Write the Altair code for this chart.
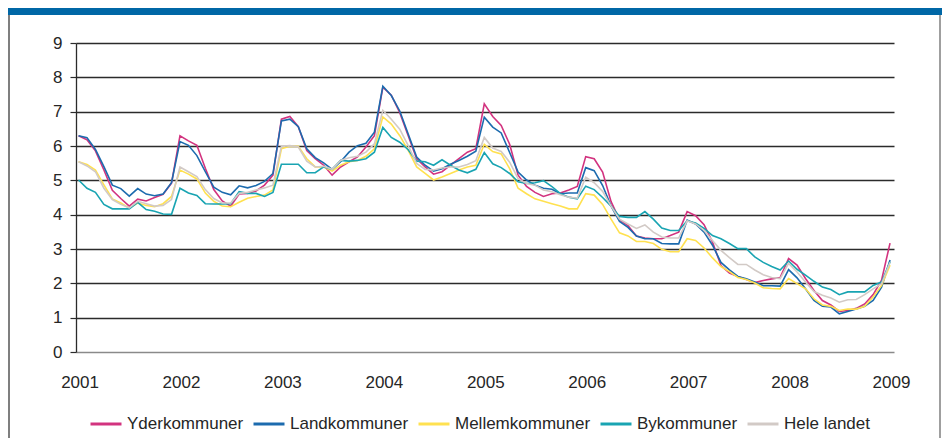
import altair as alt
import pandas as pd

series_names = ["Yderkommuner", "Landkommuner", "Mellemkommuner", "Bykommuner", "Hele landet"]
series_colors = ["#D2337F", "#1C6BAE", "#FFE150", "#19A4B2", "#D2CAC6"]

# monthly values Jan 2001 .. Jan 2009 (97 points)
yder = [6.30, 6.18, 5.86, 5.30, 4.71, 4.47, 4.25, 4.45, 4.40, 4.50, 4.59, 4.92,
        6.30, 6.15, 6.02, 5.35, 4.73, 4.40, 4.25, 4.60, 4.62, 4.69, 4.86, 5.15,
        6.78, 6.86, 6.56, 5.87, 5.63, 5.44, 5.15, 5.39, 5.54, 5.68, 5.97, 6.30,
        7.71, 7.48, 6.97, 6.30, 5.63, 5.39, 5.18, 5.25, 5.44, 5.63, 5.82, 5.92,
        7.23, 6.86, 6.60, 6.05, 5.15, 4.82, 4.65, 4.53, 4.61, 4.63, 4.72, 4.82,
        5.69, 5.63, 5.24, 4.38, 3.85, 3.68, 3.38, 3.32, 3.30, 3.30, 3.39, 3.49,
        4.09, 3.97, 3.71, 3.20, 2.52, 2.30, 2.20, 2.11, 2.02, 2.08, 2.13, 2.17,
        2.72, 2.53, 2.14, 1.79, 1.50, 1.37, 1.18, 1.21, 1.27, 1.40, 1.67, 2.09, 3.17]
land = [6.30, 6.24, 5.90, 5.40, 4.86, 4.76, 4.54, 4.76, 4.60, 4.55, 4.60, 4.93,
        6.13, 6.02, 5.72, 5.25, 4.80, 4.65, 4.58, 4.84, 4.78, 4.85, 4.97, 5.20,
        6.73, 6.78, 6.56, 5.92, 5.66, 5.51, 5.32, 5.54, 5.82, 6.01, 6.08, 6.40,
        7.74, 7.47, 7.02, 6.35, 5.68, 5.44, 5.27, 5.34, 5.47, 5.58, 5.70, 5.85,
        6.84, 6.55, 6.38, 5.81, 5.24, 5.01, 4.86, 4.77, 4.74, 4.61, 4.63, 4.63,
        5.37, 5.28, 4.85, 4.25, 3.80, 3.63, 3.38, 3.30, 3.30, 3.16, 3.15, 3.15,
        3.84, 3.73, 3.49, 3.11, 2.61, 2.39, 2.20, 2.13, 2.04, 1.93, 1.93, 1.92,
        2.40, 2.16, 1.84, 1.50, 1.33, 1.31, 1.11, 1.18, 1.25, 1.33, 1.50, 1.89, 2.68]
mellem = [5.54, 5.46, 5.30, 4.87, 4.46, 4.34, 4.19, 4.34, 4.27, 4.23, 4.32, 4.53,
          5.30, 5.18, 5.04, 4.63, 4.39, 4.25, 4.23, 4.36, 4.48, 4.53, 4.57, 4.72,
          5.92, 5.99, 5.99, 5.63, 5.39, 5.39, 5.27, 5.44, 5.54, 5.58, 5.70, 5.92,
          6.85, 6.64, 6.30, 5.87, 5.39, 5.20, 5.01, 5.10, 5.20, 5.30, 5.39, 5.44,
          6.05, 5.84, 5.77, 5.34, 4.77, 4.61, 4.46, 4.39, 4.32, 4.25, 4.17, 4.17,
          4.61, 4.57, 4.30, 3.87, 3.47, 3.38, 3.22, 3.22, 3.16, 2.99, 2.92, 2.92,
          3.30, 3.25, 3.03, 2.74, 2.49, 2.34, 2.17, 2.11, 2.01, 1.87, 1.85, 1.84,
          2.14, 1.99, 1.84, 1.55, 1.37, 1.33, 1.21, 1.25, 1.25, 1.33, 1.60, 1.94, 2.53]
by = [5.01, 4.77, 4.65, 4.30, 4.17, 4.17, 4.17, 4.36, 4.15, 4.10, 4.02, 4.01,
      4.77, 4.63, 4.56, 4.32, 4.31, 4.31, 4.32, 4.67, 4.62, 4.62, 4.53, 4.65,
      5.47, 5.47, 5.47, 5.22, 5.22, 5.39, 5.32, 5.58, 5.56, 5.58, 5.63, 5.82,
      6.54, 6.25, 6.11, 5.89, 5.56, 5.54, 5.44, 5.60, 5.44, 5.30, 5.22, 5.32,
      5.81, 5.48, 5.37, 5.20, 4.96, 4.91, 4.93, 4.99, 4.82, 4.61, 4.51, 4.46,
      4.83, 4.73, 4.50, 4.25, 3.95, 3.92, 3.92, 4.09, 3.87, 3.61, 3.54, 3.54,
      3.82, 3.76, 3.60, 3.39, 3.30, 3.16, 3.01, 3.01, 2.77, 2.61, 2.49, 2.39,
      2.65, 2.41, 2.24, 2.06, 1.89, 1.82, 1.67, 1.75, 1.75, 1.75, 1.94, 2.04, 2.63]
hele = [5.54, 5.42, 5.25, 4.77, 4.44, 4.30, 4.20, 4.39, 4.32, 4.25, 4.27, 4.44,
        5.39, 5.25, 5.11, 4.73, 4.47, 4.34, 4.34, 4.62, 4.65, 4.72, 4.78, 4.86,
        5.99, 6.01, 5.97, 5.56, 5.39, 5.41, 5.32, 5.58, 5.66, 5.70, 5.82, 6.06,
        7.04, 6.78, 6.49, 6.01, 5.49, 5.32, 5.30, 5.36, 5.39, 5.39, 5.46, 5.57,
        6.25, 5.94, 5.84, 5.53, 5.05, 4.91, 4.86, 4.72, 4.67, 4.58, 4.51, 4.48,
        5.09, 4.93, 4.68, 4.25, 3.87, 3.73, 3.60, 3.70, 3.49, 3.35, 3.32, 3.32,
        3.82, 3.73, 3.54, 3.25, 2.96, 2.75, 2.55, 2.55, 2.39, 2.25, 2.17, 2.14,
        2.58, 2.33, 2.04, 1.76, 1.65, 1.57, 1.45, 1.52, 1.53, 1.67, 1.84, 1.99, 2.61]

year_labels = [2001, 2002, 2003, 2004, 2005, 2006, 2007, 2008, 2009]
y_ticks = [0, 1, 2, 3, 4, 5, 6, 7, 8, 9]

all_series = [yder, land, mellem, by, hele]
rows = []
for name, vals in zip(series_names, all_series):
    for i, v in enumerate(vals):
        rows.append({"month": i, "value": v, "series": name, "order": series_names.index(name)})
df = pd.DataFrame(rows)

FONT = "Liberation Sans"
TXT = "#262626"
x_scale = alt.Scale(domain=[-0.3, 96.47], nice=False, zero=False)
x_tick_vals = [12 * k - 0.3 for k in range(len(year_labels))]

lines = alt.Chart(df).mark_line(strokeWidth=1.6).encode(
    x=alt.X("month:Q", scale=x_scale,
            axis=alt.Axis(values=x_tick_vals, labels=False,
                          title=None, grid=False, domainColor="#8a8a8a", domainWidth=1.5,
                          tickColor="#8a8a8a", tickSize=5, tickWidth=1.2)),
    y=alt.Y("value:Q",
            scale=alt.Scale(domain=[0, 9], nice=False),
            axis=alt.Axis(values=y_ticks, title=None, format="d",
                          grid=True,
                          gridColor=alt.condition("datum.value == 0", alt.value("#8a8a8a"), alt.value("#2b2b2b")),
                          gridWidth=1.3,
                          domainColor="#2b2b2b", domainWidth=1.3,
                          tickColor="#2b2b2b", tickSize=6, tickWidth=1.2,
                          labelFont=FONT, labelFontSize=17, labelColor=TXT,
                          labelPadding=8)),
    color=alt.Color("series:N",
                    scale=alt.Scale(domain=series_names, range=series_colors),
                    legend=alt.Legend(orient="none", legendX=13, legendY=364,
                                      direction="horizontal", title=None,
                                      symbolType="stroke", symbolSize=961,
                                      symbolStrokeWidth=3, labelFont=FONT,
                                      labelFontSize=17, labelColor=TXT,
                                      labelOffset=4, columnPadding=3, padding=0)),
    order=alt.Order("order:Q"),
)

year_df = pd.DataFrame({"month": [12 * k for k in range(len(year_labels))],
                        "label": [str(y) for y in year_labels]})
year_text = alt.Chart(year_df).mark_text(
    font=FONT, fontSize=17, color=TXT, align="center", baseline="middle", dx=1.5
).encode(
    x=alt.X("month:Q", scale=x_scale, axis=None),
    y=alt.value(340),
    text="label:N",
)

one = pd.DataFrame({"k": [0]})
band = alt.Chart(one).mark_rect(color="#0067A6").encode(
    x=alt.value(-68), x2=alt.value(866), y=alt.value(-35), y2=alt.value(-28))
left_border = alt.Chart(one).mark_rule(color="#7f7f7f", strokeWidth=2).encode(
    x=alt.value(-67), y=alt.value(-28), y2=alt.value(395))
right_border = alt.Chart(one).mark_rule(color="#7f7f7f", strokeWidth=1.5).encode(
    x=alt.value(864), y=alt.value(-28), y2=alt.value(395))

chart = alt.layer(band, left_border, right_border, lines, year_text).properties(
    width=818, height=309,
    autosize=alt.AutoSizeParams(type="none"),
    padding={"left": 68, "top": 35, "right": 48, "bottom": 86},
    background="white",
).configure_view(stroke=None)

chart.save("out.html", embed_options={"renderer": "svg", "actions": False})
